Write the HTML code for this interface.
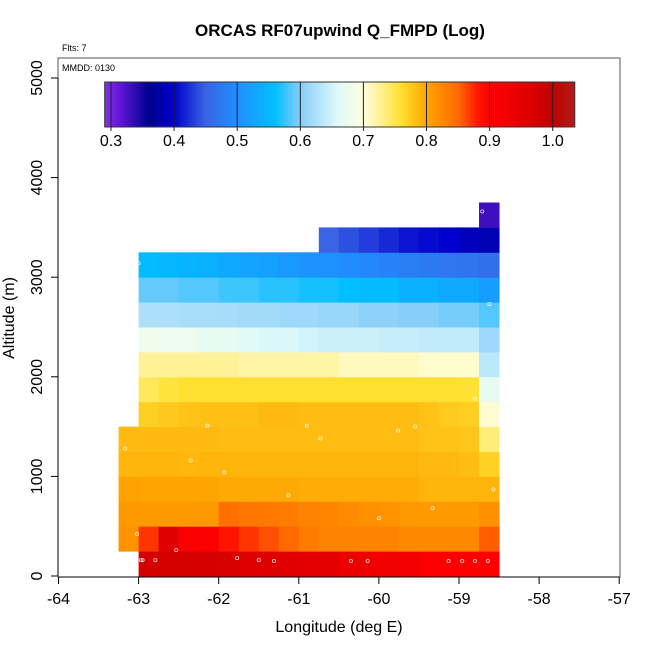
<!DOCTYPE html>
<html><head><meta charset="utf-8"><style>
html,body{margin:0;padding:0;background:#fff;}
svg{display:block;font-family:"Liberation Sans",Arial,sans-serif;}
</style></head><body>
<svg id="chart" width="650" height="650" viewBox="0 0 650 650" xmlns="http://www.w3.org/2000/svg">
<text x="340" y="36" text-anchor="middle" font-size="17" font-weight="bold">ORCAS RF07upwind Q_FMPD (Log)</text>
<text x="62" y="51" font-size="9">Flts: 7</text>
<g id="cells"></g>
<g id="pts"></g>
<rect x="58" y="58" width="562" height="519" fill="none" stroke="#555" stroke-width="1"/>
<text x="62" y="71" font-size="9">MMDD: 0130</text>
<defs><linearGradient id="cb" x1="0" x2="1" y1="0" y2="0"></linearGradient></defs>
<rect id="cbar" y="82" height="45" fill="url(#cb)" stroke="#333"/>
<g id="cbt"></g>
<g id="axes"></g>
<text x="339" y="632" text-anchor="middle" font-size="16">Longitude (deg E)</text>
<text transform="translate(14,318) rotate(-90)" text-anchor="middle" font-size="16">Altitude (m)</text>
</svg>
<script>
const xTicks=[-64,-63,-62,-61,-60,-59,-58,-57];
const yTicks=[0,1000,2000,3000,4000,5000];
const cbTicks=[0.3,0.4,0.5,0.6,0.7,0.8,0.9,1.0];
const cbStops=[[0.29,"#8030e8"],[0.31,"#6a18dc"],[0.34,"#2a0ab0"],[0.36,"#00008b"],[0.40,"#0000cd"],[0.45,"#3a64e4"],[0.50,"#1e90ff"],[0.56,"#00bfff"],[0.60,"#87cefa"],[0.66,"#e0fafa"],[0.70,"#ffffe0"],[0.76,"#ffe030"],[0.80,"#ffa500"],[0.85,"#ff6a00"],[0.88,"#ff1a00"],[0.90,"#ff0000"],[0.96,"#e00000"],[1.0,"#c00000"],[1.035,"#b01c1c"]];
const cellW=0.25, cellH=250;
const rowAlt=[0,250,500,750,1000,1250,1500,1750,2000,2250,2500,2750,3000,3250,3500];
const rowStart=[-63,-63.25,-63.25,-63.25,-63.25,-63.25,-63,-63,-63,-63,-63,-63,-63,-60.75,-58.75];
const rowVals=[
[0.975,0.975,0.975,0.972,0.97,0.965,0.965,0.96,0.955,0.95,0.94,0.93,0.925,0.92,0.91,0.905,0.9,0.9],
[0.815,0.87,0.96,0.91,0.905,0.885,0.87,0.86,0.85,0.835,0.83,0.83,0.83,0.83,0.825,0.825,0.825,0.825,0.855],
[0.81,0.81,0.81,0.81,0.812,0.845,0.84,0.838,0.835,0.83,0.828,0.822,0.818,0.815,0.812,0.81,0.81,0.81,0.818],
[0.803,0.8,0.8,0.8,0.8,0.797,0.797,0.797,0.797,0.795,0.795,0.795,0.795,0.795,0.795,0.79,0.79,0.79,0.79],
[0.79,0.79,0.79,0.788,0.79,0.79,0.79,0.79,0.79,0.79,0.79,0.79,0.79,0.79,0.79,0.787,0.787,0.783,0.77],
[0.786,0.786,0.786,0.786,0.786,0.784,0.784,0.784,0.784,0.784,0.784,0.784,0.784,0.784,0.784,0.78,0.78,0.778,0.735],
[0.772,0.776,0.78,0.782,0.782,0.782,0.786,0.786,0.784,0.784,0.784,0.784,0.784,0.784,0.78,0.775,0.772,0.705],
[0.745,0.755,0.76,0.76,0.76,0.76,0.76,0.76,0.76,0.76,0.76,0.76,0.76,0.76,0.76,0.76,0.758,0.67],
[0.725,0.725,0.725,0.725,0.725,0.72,0.72,0.72,0.72,0.72,0.712,0.712,0.712,0.712,0.706,0.706,0.706,0.635],
[0.68,0.676,0.676,0.67,0.67,0.66,0.656,0.656,0.65,0.646,0.646,0.646,0.642,0.642,0.64,0.64,0.64,0.615],
[0.625,0.625,0.622,0.622,0.62,0.618,0.618,0.615,0.615,0.612,0.612,0.605,0.605,0.6,0.6,0.595,0.595,0.585],
[0.59,0.59,0.585,0.585,0.578,0.578,0.572,0.572,0.566,0.566,0.56,0.556,0.556,0.54,0.54,0.53,0.53,0.515],
[0.555,0.55,0.545,0.54,0.532,0.525,0.52,0.51,0.505,0.5,0.495,0.49,0.485,0.48,0.475,0.47,0.468,0.462],
[0.45,0.44,0.43,0.42,0.41,0.405,0.4,0.39,0.385],
[0.33]];
const ptLon=[-62.97,-62.95,-62.79,-62.53,-61.77,-61.5,-61.31,-60.35,-60.14,-59.13,-58.96,-58.8,-58.64,-63.02,-62.14,-60.9,-59.76,-59.55,-58.8,-58.57,-63.17,-62.35,-61.93,-61.13,-60.73,-60.0,-59.33,-58.62,-58.71,-63.0];
const ptAlt=[160,160,160,260,180,160,150,150,150,150,150,150,150,420,1510,1510,1460,1500,1780,870,1280,1160,1040,810,1380,580,680,2730,3660,3140];

const X=v=>58.5+(v+64)*80.1, Y=a=>576-a*0.0996;
const NS="http://www.w3.org/2000/svg";
function mk(t,a,p){const e=document.createElementNS(NS,t);for(const k in a)e.setAttribute(k,a[k]);p.appendChild(e);return e;}
function hex(h){return [1,3,5].map(i=>parseInt(h.substr(i,2),16));}
function col(v){if(v<=cbStops[0][0])return cbStops[0][1];
 for(let i=1;i<cbStops.length;i++){if(v<=cbStops[i][0]){const[a,ca]=cbStops[i-1],[b,cbb]=cbStops[i];const t=(v-a)/(b-a);const A=hex(ca),B=hex(cbb);
 return "rgb("+A.map((x,j)=>Math.round(x+(B[j]-x)*t)).join(",")+")";}}return cbStops[cbStops.length-1][1];}
const cells=document.getElementById('cells');
rowVals.forEach((vals,r)=>{vals.forEach((v,c)=>{const l=rowStart[r]+c*cellW;
 const e=mk('rect',{x:X(l),y:Y(rowAlt[r]+cellH),width:X(l+cellW)-X(l)+0.5,height:Y(rowAlt[r])-Y(rowAlt[r]+cellH)+0.5,fill:col(v)},cells);
 
 });});
const pts=document.getElementById('pts');
ptLon.forEach((lo,i)=>{const e=mk('circle',{cx:X(lo),cy:Y(ptAlt[i]),r:1.6,fill:'none',stroke:'#fff','stroke-opacity':0.8,'stroke-width':0.8},pts);
 
 });
const C=v=>111+(v-0.3)*631;
const cb0=0.29,cb1=1.035;
const bar=document.getElementById('cbar');bar.setAttribute('x',C(cb0));bar.setAttribute('width',C(cb1)-C(cb0));
const grad=document.getElementById('cb');
cbStops.forEach(s=>{mk('stop',{offset:((s[0]-cb0)/(cb1-cb0)*100)+'%','stop-color':s[1]},grad);});
const cbt=document.getElementById('cbt');
cbTicks.forEach(t=>{const x=C(t);
 mk('line',{x1:x,x2:x,y1:82,y2:131,stroke:'#222','stroke-width':1},cbt);
 const e=mk('text',{x:x,y:146,'text-anchor':'middle','font-size':16},cbt);e.textContent=t.toFixed(1);
 
 });
const ax=document.getElementById('axes');
mk('line',{x1:X(-64),x2:X(-57),y1:577,y2:577,stroke:'#000'},ax);
xTicks.forEach(t=>{mk('line',{x1:X(t),x2:X(t),y1:577,y2:584,stroke:'#000'},ax);
 const e=mk('text',{x:X(t),y:604,'text-anchor':'middle','font-size':16},ax);e.textContent=t;
 
 });
mk('line',{x1:58,x2:58,y1:Y(0),y2:Y(5000),stroke:'#000'},ax);
yTicks.forEach(t=>{mk('line',{x1:51,x2:58,y1:Y(t),y2:Y(t),stroke:'#000'},ax);
 const e=mk('text',{transform:`translate(42,${Y(t)}) rotate(-90)`,'text-anchor':'middle','font-size':16},ax);e.textContent=t;
 
 });
</script>
</body></html>
